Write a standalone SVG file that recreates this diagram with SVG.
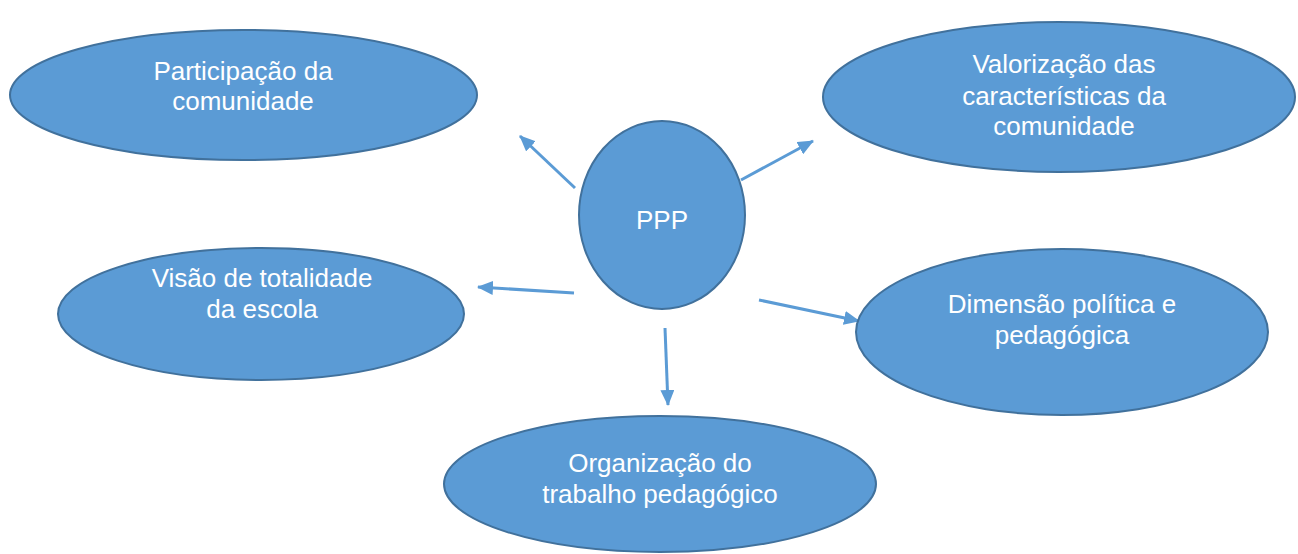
<svg xmlns="http://www.w3.org/2000/svg" width="1298" height="554" viewBox="0 0 1298 554">
<style>
.node ellipse{fill:#5B9BD5;stroke:#41719C;stroke-width:2}
.node text{fill:#FFFFFF;font-family:"Liberation Sans",Arial,sans-serif;font-size:26px;text-anchor:middle}
.edge{stroke:#5B9BD5;stroke-width:3;fill:none;marker-end:url(#ah)}
</style>
<defs>
<marker id="ah" markerUnits="userSpaceOnUse" viewBox="0 0 16 14" refX="15" refY="7" markerWidth="16" markerHeight="14" orient="auto">
<path d="M0,0 L16,7 L0,14 z" fill="#5B9BD5"/>
</marker>
</defs>
<rect width="1298" height="554" fill="#FFFFFF"/>
<g id="connectors">
<line class="edge" x1="575" y1="188" x2="520" y2="136"/>
<line class="edge" x1="741" y1="180" x2="813" y2="141"/>
<line class="edge" x1="574" y1="293" x2="478" y2="287"/>
<line class="edge" x1="665" y1="328" x2="668" y2="405"/>
<line class="edge" x1="759" y1="300" x2="859" y2="321"/>
</g>
<g id="participacao" class="node">
<ellipse cx="243.5" cy="95" rx="233.5" ry="65"/>
<text x="243" y="80">Participação da</text>
<text x="243" y="110">comunidade</text>
</g>
<g id="valorizacao" class="node">
<ellipse cx="1059" cy="97" rx="236" ry="75"/>
<text x="1064" y="73">Valorização das</text>
<text x="1064" y="105">características da</text>
<text x="1064" y="135">comunidade</text>
</g>
<g id="ppp" class="node">
<ellipse cx="662" cy="215" rx="83" ry="94"/>
<text x="662" y="229">PPP</text>
</g>
<g id="visao" class="node">
<ellipse cx="261" cy="314" rx="203" ry="66"/>
<text x="262" y="287">Visão de totalidade</text>
<text x="262" y="318">da escola</text>
</g>
<g id="dimensao" class="node">
<ellipse cx="1062" cy="332" rx="206" ry="83"/>
<text x="1062" y="313">Dimensão política e</text>
<text x="1062" y="344">pedagógica</text>
</g>
<g id="organizacao" class="node">
<ellipse cx="660" cy="484" rx="216" ry="68"/>
<text x="660" y="472">Organização do</text>
<text x="660" y="503">trabalho pedagógico</text>
</g>
</svg>
